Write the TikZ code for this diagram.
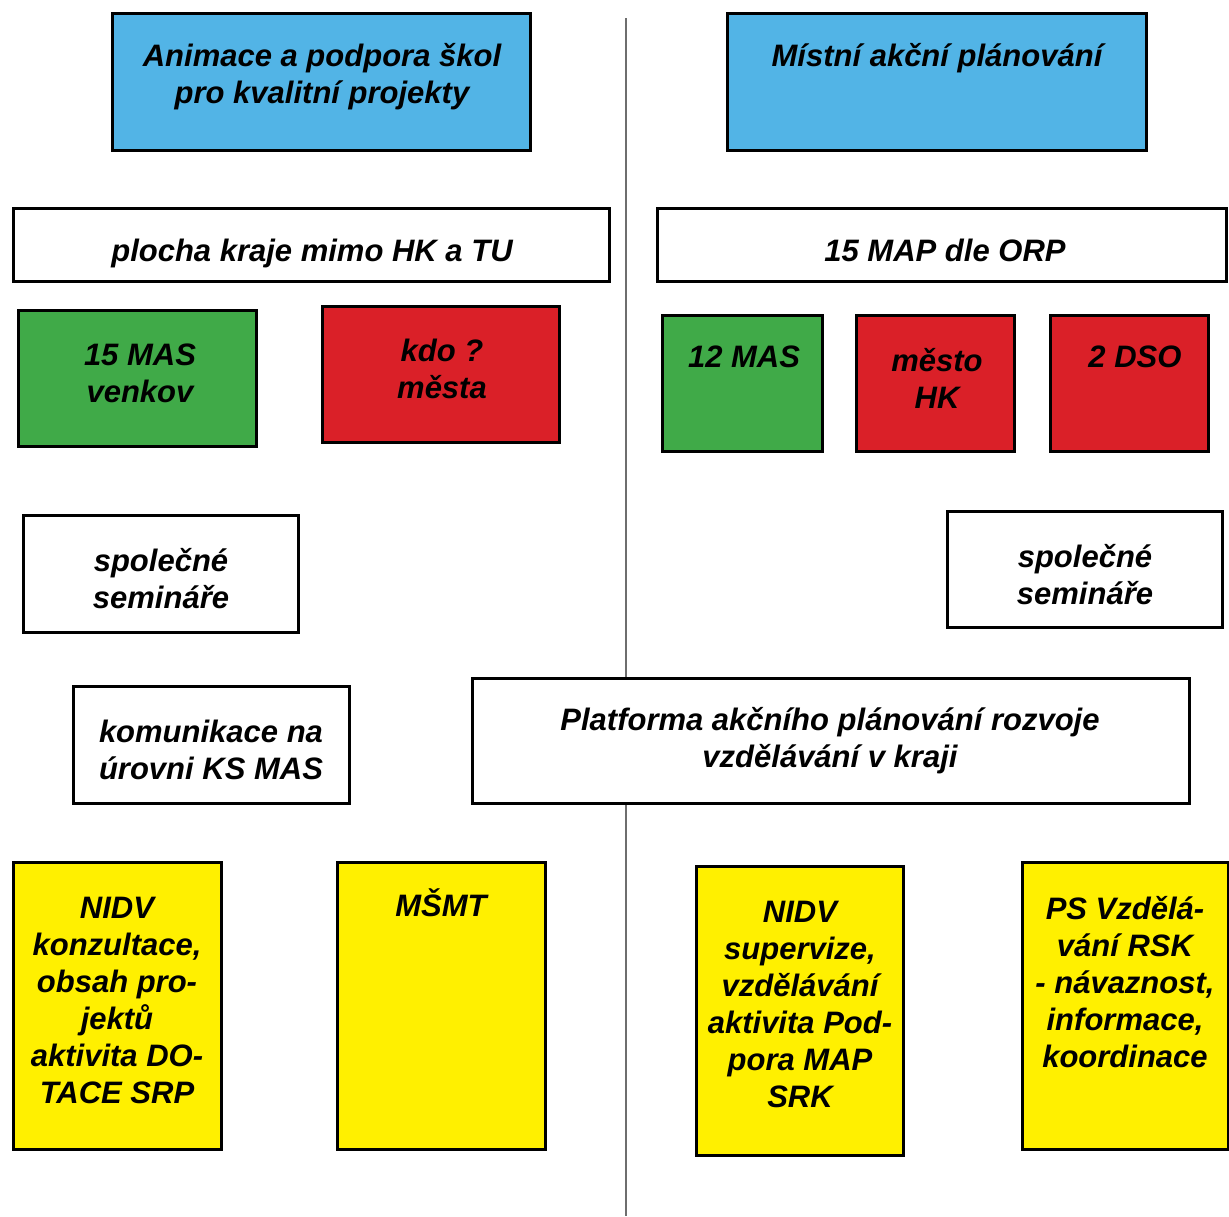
\documentclass[tikz,border=0pt]{standalone}
\usepackage{fontspec}
\setmainfont{Liberation Sans}
\definecolor{boxblue}{RGB}{82,180,230}
\definecolor{boxgreen}{RGB}{64,170,72}
\definecolor{boxred}{RGB}{218,32,40}
\definecolor{boxyellow}{RGB}{255,240,0}
\definecolor{linegray}{RGB}{110,110,110}
\tikzset{
  card/.style={draw=black, line width=3pt, rectangle, inner sep=0pt},
  txt/.style={align=center, inner sep=0pt, font=\fontsize{31}{37}\selectfont\bfseries\itshape, text=black},
}
\begin{document}
\begin{tikzpicture}[x=1pt,y=-1pt]
\useasboundingbox (0,0) rectangle (1229,1216);
\fill[white] (0,0) rectangle (1229,1216);
% divider
\coordinate (dtop) at (626,18);
\coordinate (dbot) at (626,1216);
\draw[linegray, line width=2pt] (dtop) -- (dbot);

% row 1
\node[card, fill=boxblue, minimum width=418, minimum height=137] (b1) at (321,81.5) {};
\node[txt] (t1) at (322,77) {Animace a podpora škol\\pro kvalitní projekty};
\node[card, fill=boxblue, minimum width=419, minimum height=137] (b2) at (936.5,81.5) {};
\node[txt] (t2) at (937,58) {Místní akční plánování};

% row 2
\node[card, fill=white, minimum width=596, minimum height=73] (b3) at (311,244.5) {};
\node[txt] (t3) at (312,253) {plocha kraje mimo HK a TU};
\node[card, fill=white, minimum width=569, minimum height=73] (b6) at (941.5,244.5) {};
\node[txt] (t6) at (945,250) {15 MAP dle ORP};

% row 3
\node[card, fill=boxgreen, minimum width=238, minimum height=136] (b4) at (137,378) {};
\node[txt] (t4) at (140,373) {15 MAS\\venkov};
\node[card, fill=boxred, minimum width=237, minimum height=136] (b5) at (440.5,374) {};
\node[txt] (t5) at (442,368.5) {kdo ?\\města};
\node[card, fill=boxgreen, minimum width=160, minimum height=136] (b7) at (742,383) {};
\node[txt] (t7) at (744,357) {12 MAS};
\node[card, fill=boxred, minimum width=158, minimum height=136] (b8) at (935,383) {};
\node[txt] (t8) at (937,378.5) {město\\HK};
\node[card, fill=boxred, minimum width=158, minimum height=136] (b9) at (1129,383) {};
\node[txt] (t9) at (1135,357) {2 DSO};

% row 4
\node[card, fill=white, minimum width=275, minimum height=117] (b10) at (160.5,573.5) {};
\node[txt] (t10) at (161,578.5) {společné\\semináře};
\node[card, fill=white, minimum width=275, minimum height=116] (b11) at (1084.5,569) {};
\node[txt] (t11) at (1085,574.5) {společné\\semináře};

% row 5
\node[card, fill=white, minimum width=276, minimum height=117] (b12) at (211,744.5) {};
\node[txt] (t12) at (211,750) {komunikace na\\úrovni KS MAS};
\node[card, fill=white, minimum width=717, minimum height=125] (b13) at (830.5,740.5) {};
\node[txt] (t13) at (830,740.5) {Platforma akčního plánování rozvoje\\vzdělávání v kraji};

% row 6
\node[card, fill=boxyellow, minimum width=208, minimum height=287] (b14) at (117,1005.5) {};
\node[txt] (t14) at (117,1000.5) {NIDV\\konzultace,\\obsah pro-\\jektů\\aktivita DO-\\TACE SRP};
\node[card, fill=boxyellow, minimum width=208, minimum height=287] (b15) at (441,1005.5) {};
\node[txt] (t15) at (441,903) {MŠMT};
\node[card, fill=boxyellow, minimum width=207, minimum height=289] (b16) at (799.5,1010.5) {};
\node[txt] (t16) at (800,1004.5) {NIDV\\supervize,\\vzdělávání\\aktivita Pod-\\pora MAP\\SRK};
\node[card, fill=boxyellow, minimum width=206, minimum height=287] (b17) at (1125,1005.5) {};
\node[txt] (t17) at (1125,982) {PS Vzdělá-\\vání RSK\\- návaznost,\\informace,\\koordinace};
\end{tikzpicture}
\end{document}
